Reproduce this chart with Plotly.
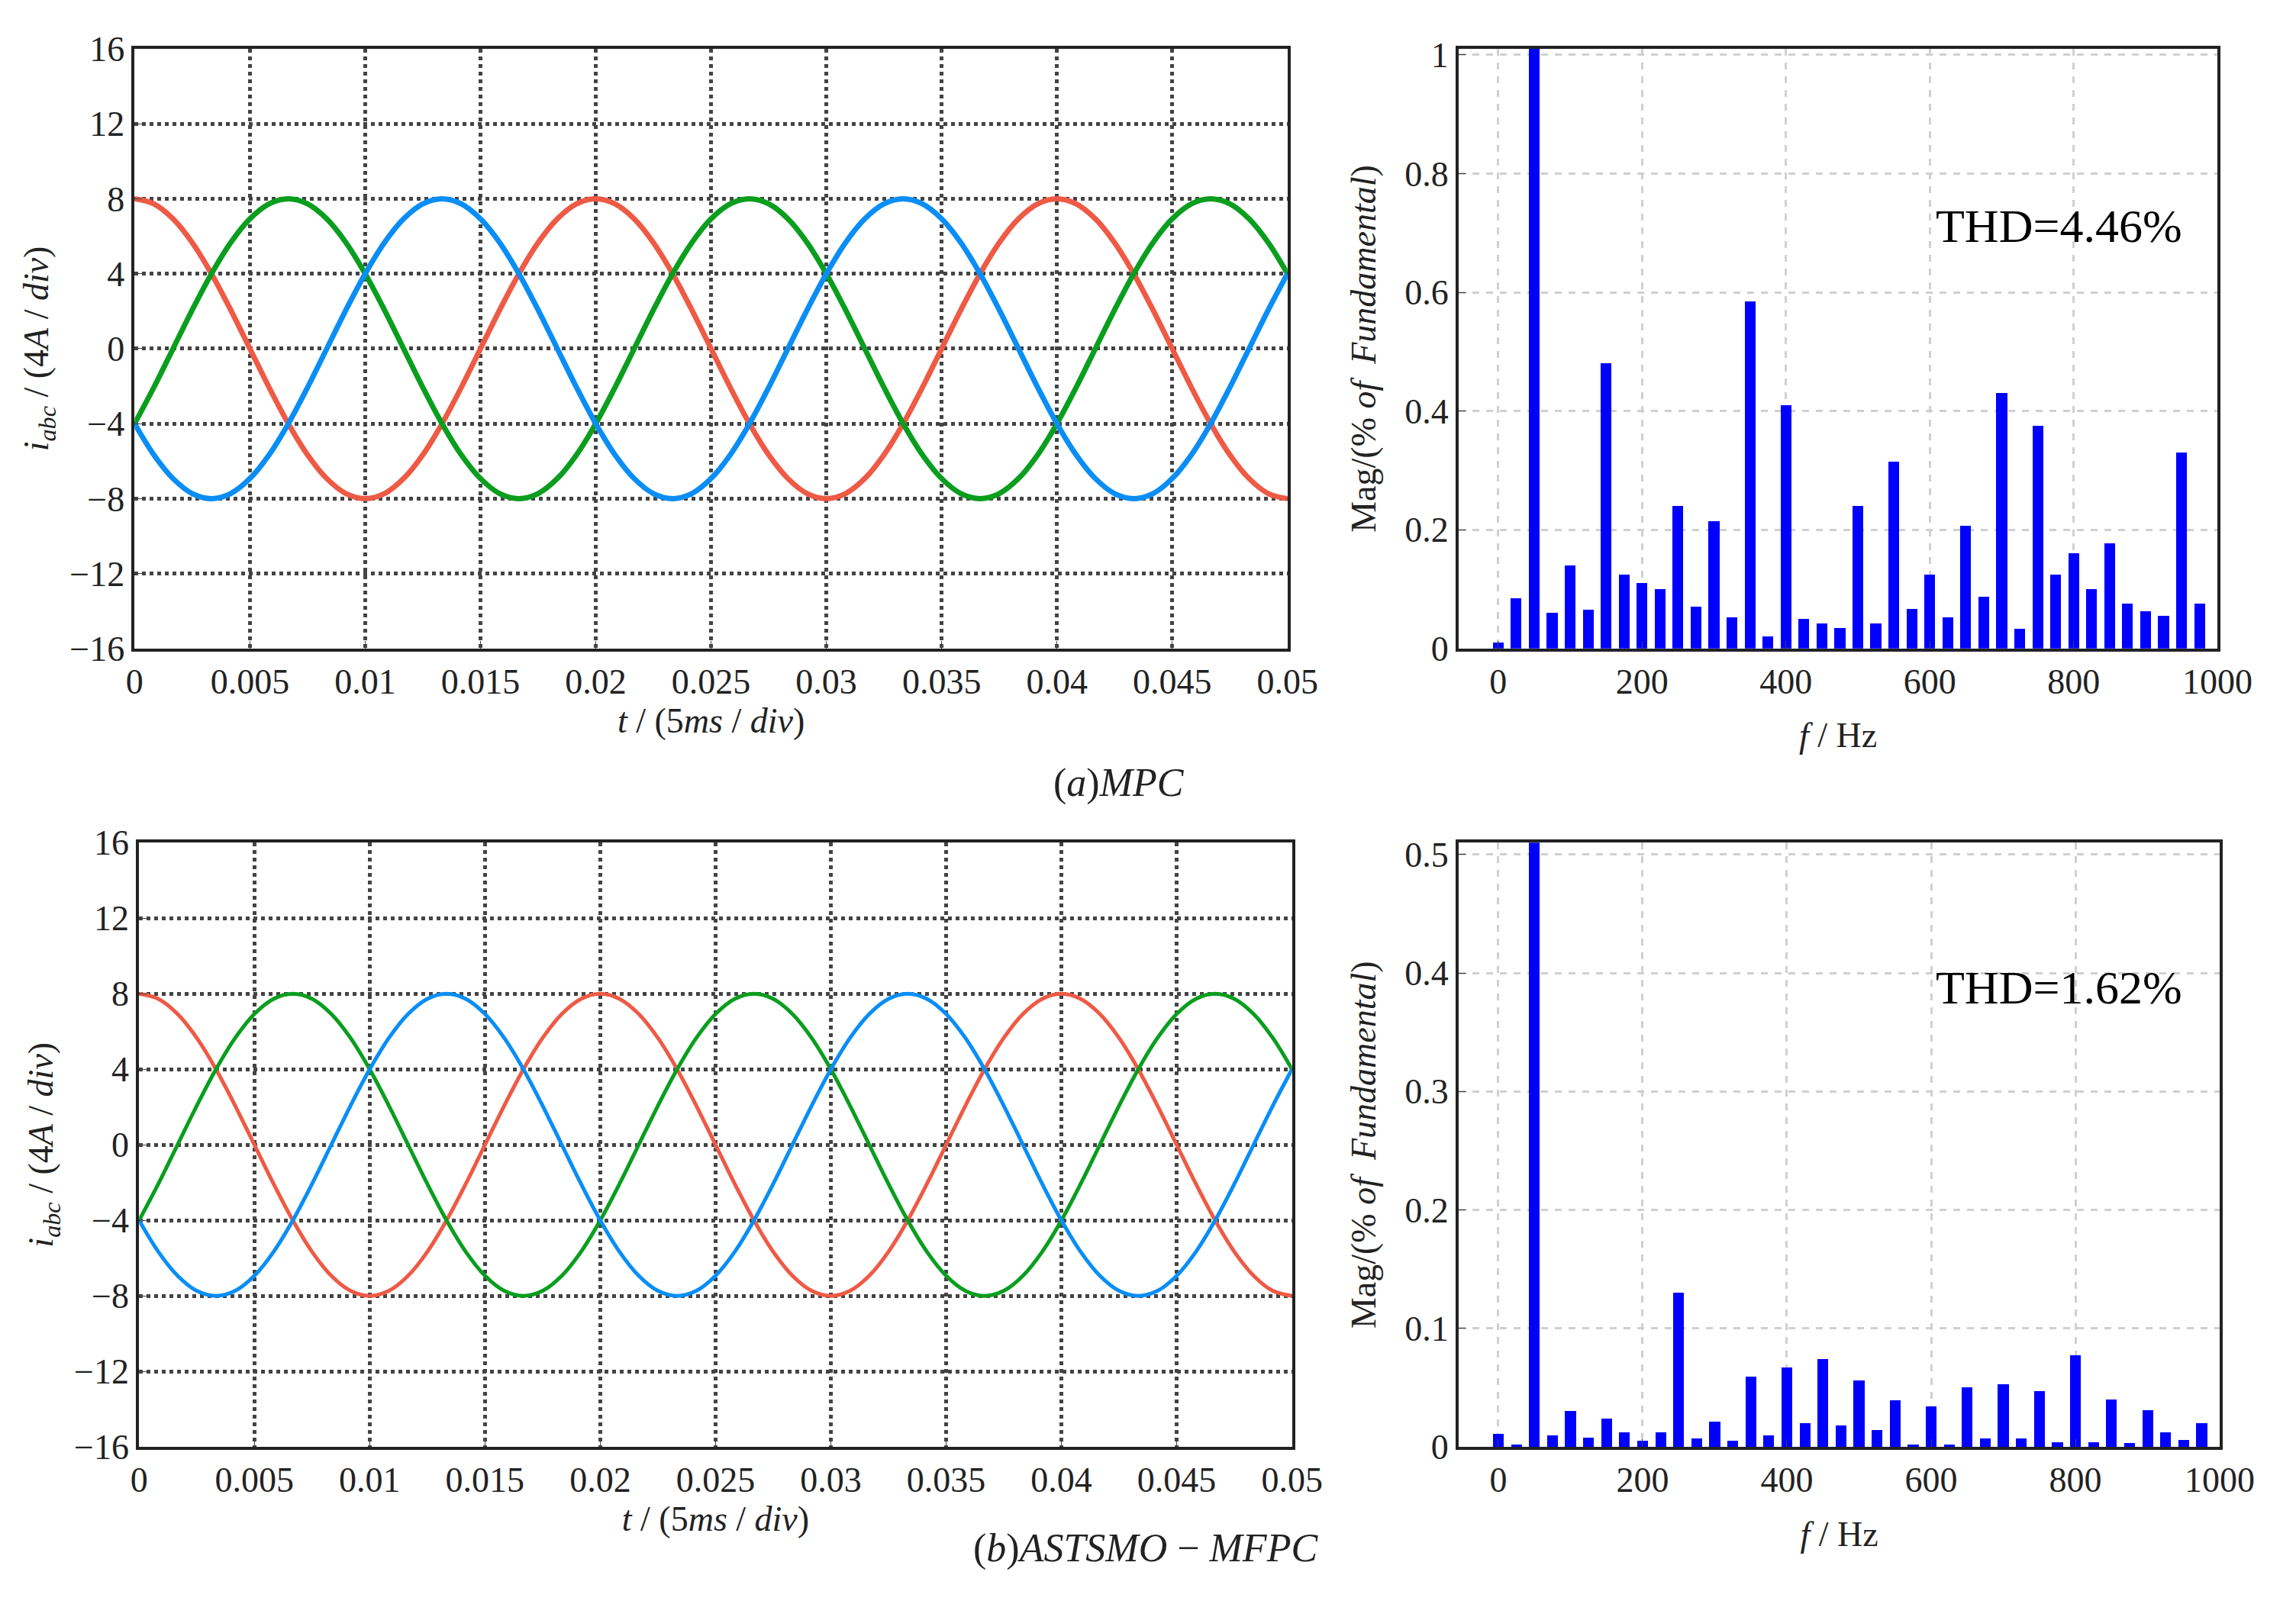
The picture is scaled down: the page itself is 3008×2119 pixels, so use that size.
import plotly.graph_objects as go

t = [i * 0.05 / 60 for i in range(61)]
ia = [8,7.73,6.93,5.66,4,2.07,0,-2.07,-4,-5.66,-6.93,-7.73,-8,-7.73,-6.93,-5.66,-4,-2.07,0,2.07,4,5.66,6.93,7.73,
      8,7.73,6.93,5.66,4,2.07,0,-2.07,-4,-5.66,-6.93,-7.73,-8,-7.73,-6.93,-5.66,-4,-2.07,0,2.07,4,5.66,6.93,7.73,
      8,7.73,6.93,5.66,4,2.07,0,-2.07,-4,-5.66,-6.93,-7.73,-8]
ib = [-4,-2.07,0,2.07,4,5.66,6.93,7.73,8,7.73,6.93,5.66,4,2.07,0,-2.07,-4,-5.66,-6.93,-7.73,-8,-7.73,-6.93,-5.66,
      -4,-2.07,0,2.07,4,5.66,6.93,7.73,8,7.73,6.93,5.66,4,2.07,0,-2.07,-4,-5.66,-6.93,-7.73,-8,-7.73,-6.93,-5.66,
      -4,-2.07,0,2.07,4,5.66,6.93,7.73,8,7.73,6.93,5.66,4]
ic = [-4,-5.66,-6.93,-7.73,-8,-7.73,-6.93,-5.66,-4,-2.07,0,2.07,4,5.66,6.93,7.73,8,7.73,6.93,5.66,4,2.07,0,-2.07,
      -4,-5.66,-6.93,-7.73,-8,-7.73,-6.93,-5.66,-4,-2.07,0,2.07,4,5.66,6.93,7.73,8,7.73,6.93,5.66,4,2.07,0,-2.07,
      -4,-5.66,-6.93,-7.73,-8,-7.73,-6.93,-5.66,-4,-2.07,0,2.07,4]

freq = [i * 25 for i in range(40)]
mag_mpc = [0.01,0.085,1.05,0.06,0.14,0.065,0.48,0.125,0.11,0.1,0.24,0.07,0.215,0.052,0.585,0.02,0.41,0.05,0.042,0.035,
           0.24,0.042,0.315,0.067,0.125,0.052,0.207,0.087,0.43,0.033,0.375,0.125,0.16,0.1,0.177,0.075,0.063,0.055,0.33,0.075]
mag_ast = [0.011,0.002,0.55,0.01,0.03,0.008,0.024,0.012,0.005,0.012,0.13,0.007,0.021,0.005,0.059,0.01,0.067,0.02,0.074,0.018,
           0.056,0.014,0.039,0.002,0.034,0.002,0.05,0.007,0.053,0.007,0.047,0.004,0.077,0.004,0.04,0.003,0.031,0.012,0.006,0.02]

t_ticks = [0,0.005,0.01,0.015,0.02,0.025,0.03,0.035,0.04,0.045,0.05]
t_labels = ["0","0.005","0.01","0.015","0.02","0.025","0.03","0.035","0.04","0.045","0.05"]
i_ticks = [-16,-12,-8,-4,0,4,8,12,16]

FONT = "Liberation Serif"
TXT = "#222"
colors = ["#EE5A45", "#0A9E1E", "#0A8EF5"]

fig = go.Figure()
for xa, ya, lw in [("x", "y", 7), ("x3", "y3", 5)]:
    for arr, c in zip([ia, ib, ic], colors):
        fig.add_trace(go.Scatter(x=t, y=arr, mode="lines", line=dict(color=c, width=lw, shape="spline"),
                                 xaxis=xa, yaxis=ya, showlegend=False))
fig.add_trace(go.Bar(x=freq, y=mag_mpc, width=15, marker=dict(color="#0000FF", line_width=0),
                     xaxis="x2", yaxis="y2", showlegend=False))
fig.add_trace(go.Bar(x=freq, y=mag_ast, width=15, marker=dict(color="#0000FF", line_width=0),
                     xaxis="x4", yaxis="y4", showlegend=False))

tf = dict(family=FONT, size=46, color=TXT)
def wave_x(dom, anchor):
    return dict(domain=dom, anchor=anchor, range=[0, 0.05], tickvals=t_ticks, ticktext=t_labels,
                showgrid=True, gridcolor="#444", griddash="dot", gridwidth=5, showline=True, linecolor="#222",
                linewidth=4, mirror=True, ticks="inside", ticklen=10, tickfont=tf, zeroline=False,
                title=dict(text="<i>t</i> / (5<i>ms</i> / <i>div</i>)", font=tf, standoff=4))
def wave_y(dom, anchor):
    return dict(domain=dom, anchor=anchor, range=[-16, 16], tickvals=i_ticks,
                showgrid=True, gridcolor="#444", griddash="dot", gridwidth=5, showline=True, linecolor="#222",
                linewidth=4, mirror=True, ticks="inside", ticklen=10, tickfont=tf, zeroline=False,
                title=dict(text="<i>i<sub>abc</sub></i> / (4<i>A</i> / <i>div</i>)", font=tf, standoff=14))
def fft_x(dom, anchor):
    return dict(domain=dom, anchor=anchor, range=[-55, 1000], tickvals=[0,200,400,600,800,1000],
                showgrid=True, gridcolor="#d0d0d0", griddash="dash", gridwidth=3, showline=True, linecolor="#222",
                linewidth=4, mirror=True, ticks="inside", ticklen=10, tickfont=tf, zeroline=False,
                title=dict(text="<i>f</i> / Hz", font=tf, standoff=30))
def fft_y(dom, anchor, rng, tv):
    return dict(domain=dom, anchor=anchor, range=rng, tickvals=tv,
                showgrid=True, gridcolor="#d0d0d0", griddash="dash", gridwidth=3, showline=True, linecolor="#222",
                linewidth=4, mirror=True, ticks="inside", ticklen=10, tickfont=tf, zeroline=False,
                title=dict(text="Mag/(% <i>of  Fundamental</i>)", font=tf, standoff=24))

fig.update_layout(
    width=3008, height=2119, paper_bgcolor="white", plot_bgcolor="white",
    margin=dict(l=0, r=0, t=0, b=0), bargap=0,
    xaxis=wave_x([0.053, 0.565], "y"), yaxis=wave_y([0.605, 0.985], "x"),
    xaxis2=fft_x([0.641, 0.978], "y2"), yaxis2=fft_y([0.605, 0.985], "x2", [0, 1.01], [0,0.2,0.4,0.6,0.8,1]),
    xaxis3=wave_x([0.055, 0.567], "y3"), yaxis3=wave_y([0.099, 0.482], "x3"),
    xaxis4=fft_x([0.641, 0.979], "y4"), yaxis4=fft_y([0.099, 0.482], "x4", [0, 0.51], [0,0.1,0.2,0.3,0.4,0.5]),
    annotations=[
        dict(text="THD=4.46%", x=0.963, y=0.89, xref="paper", yref="paper", showarrow=False,
             font=dict(family=FONT, size=62, color="#000"), xanchor="right"),
        dict(text="THD=1.62%", x=0.963, y=0.39, xref="paper", yref="paper", showarrow=False,
             font=dict(family=FONT, size=62, color="#000"), xanchor="right"),
        dict(text="(<i>a</i>)<i>MPC</i>", x=0.49, y=1 - 1018/2119, xref="paper", yref="paper", showarrow=False,
             font=dict(family=FONT, size=52, color=TXT)),
        dict(text="(<i>b</i>)<i>ASTSMO</i> − <i>MFPC</i>", x=0.502, y=1 - 2077/2119, xref="paper", yref="paper",
             showarrow=False, font=dict(family=FONT, size=52, color=TXT)),
    ],
)
fig.write_html("out.html")
